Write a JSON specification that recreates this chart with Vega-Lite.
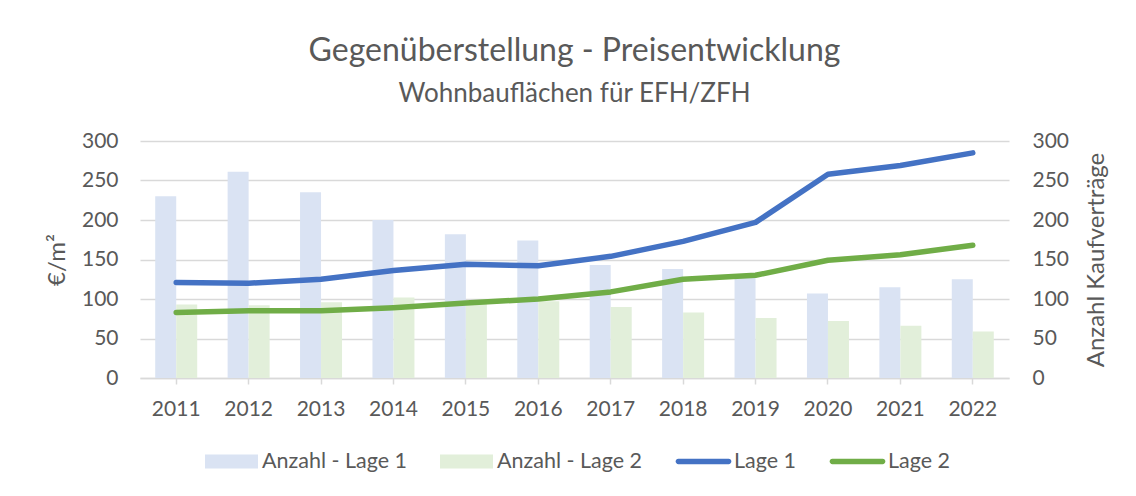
{
  "$schema": "https://vega.github.io/schema/vega-lite/v6.json",
  "width": 869,
  "height": 237,
  "autosize": {"type": "none"},
  "padding": {"left": 140, "top": 141, "right": 127, "bottom": 118},
  "background": "white",
  "title": {
    "text": "Gegenüberstellung - Preisentwicklung",
    "subtitle": "Wohnbauflächen für EFH/ZFH",
    "anchor": "middle",
    "font": "Lato",
    "fontSize": 32,
    "fontWeight": "normal",
    "color": "#595959",
    "subtitleFont": "Lato",
    "subtitleFontSize": 26,
    "subtitleColor": "#595959",
    "subtitlePadding": 13,
    "offset": 22
  },
  "config": {
    "view": {"stroke": null},
    "axis": {
      "labelFont": "Lato",
      "labelFontSize": 21,
      "labelColor": "#595959",
      "titleFont": "Lato",
      "titleFontSize": 24,
      "titleColor": "#595959",
      "titleFontWeight": "normal"
    }
  },
  "data": {
    "values": [
      {"year": "2011", "series": "Anzahl - Lage 1", "kind": "bar", "value": 230},
      {"year": "2012", "series": "Anzahl - Lage 1", "kind": "bar", "value": 261},
      {"year": "2013", "series": "Anzahl - Lage 1", "kind": "bar", "value": 235},
      {"year": "2014", "series": "Anzahl - Lage 1", "kind": "bar", "value": 200},
      {"year": "2015", "series": "Anzahl - Lage 1", "kind": "bar", "value": 182},
      {"year": "2016", "series": "Anzahl - Lage 1", "kind": "bar", "value": 174},
      {"year": "2017", "series": "Anzahl - Lage 1", "kind": "bar", "value": 143},
      {"year": "2018", "series": "Anzahl - Lage 1", "kind": "bar", "value": 138},
      {"year": "2019", "series": "Anzahl - Lage 1", "kind": "bar", "value": 128},
      {"year": "2020", "series": "Anzahl - Lage 1", "kind": "bar", "value": 107},
      {"year": "2021", "series": "Anzahl - Lage 1", "kind": "bar", "value": 115},
      {"year": "2022", "series": "Anzahl - Lage 1", "kind": "bar", "value": 125},
      {"year": "2011", "series": "Anzahl - Lage 2", "kind": "bar", "value": 93},
      {"year": "2012", "series": "Anzahl - Lage 2", "kind": "bar", "value": 92},
      {"year": "2013", "series": "Anzahl - Lage 2", "kind": "bar", "value": 96},
      {"year": "2014", "series": "Anzahl - Lage 2", "kind": "bar", "value": 102},
      {"year": "2015", "series": "Anzahl - Lage 2", "kind": "bar", "value": 96},
      {"year": "2016", "series": "Anzahl - Lage 2", "kind": "bar", "value": 97},
      {"year": "2017", "series": "Anzahl - Lage 2", "kind": "bar", "value": 90},
      {"year": "2018", "series": "Anzahl - Lage 2", "kind": "bar", "value": 83},
      {"year": "2019", "series": "Anzahl - Lage 2", "kind": "bar", "value": 76},
      {"year": "2020", "series": "Anzahl - Lage 2", "kind": "bar", "value": 72},
      {"year": "2021", "series": "Anzahl - Lage 2", "kind": "bar", "value": 66},
      {"year": "2022", "series": "Anzahl - Lage 2", "kind": "bar", "value": 59},
      {"year": "2011", "series": "Lage 1", "kind": "line", "value": 121},
      {"year": "2012", "series": "Lage 1", "kind": "line", "value": 120},
      {"year": "2013", "series": "Lage 1", "kind": "line", "value": 125},
      {"year": "2014", "series": "Lage 1", "kind": "line", "value": 136},
      {"year": "2015", "series": "Lage 1", "kind": "line", "value": 144},
      {"year": "2016", "series": "Lage 1", "kind": "line", "value": 142},
      {"year": "2017", "series": "Lage 1", "kind": "line", "value": 154},
      {"year": "2018", "series": "Lage 1", "kind": "line", "value": 173},
      {"year": "2019", "series": "Lage 1", "kind": "line", "value": 197},
      {"year": "2020", "series": "Lage 1", "kind": "line", "value": 258},
      {"year": "2021", "series": "Lage 1", "kind": "line", "value": 269},
      {"year": "2022", "series": "Lage 1", "kind": "line", "value": 285},
      {"year": "2011", "series": "Lage 2", "kind": "line", "value": 83},
      {"year": "2012", "series": "Lage 2", "kind": "line", "value": 85},
      {"year": "2013", "series": "Lage 2", "kind": "line", "value": 85},
      {"year": "2014", "series": "Lage 2", "kind": "line", "value": 89},
      {"year": "2015", "series": "Lage 2", "kind": "line", "value": 95},
      {"year": "2016", "series": "Lage 2", "kind": "line", "value": 100},
      {"year": "2017", "series": "Lage 2", "kind": "line", "value": 109},
      {"year": "2018", "series": "Lage 2", "kind": "line", "value": 125},
      {"year": "2019", "series": "Lage 2", "kind": "line", "value": 130},
      {"year": "2020", "series": "Lage 2", "kind": "line", "value": 149},
      {"year": "2021", "series": "Lage 2", "kind": "line", "value": 156},
      {"year": "2022", "series": "Lage 2", "kind": "line", "value": 168}
    ]
  },
  "layer": [
    {
      "transform": [{"filter": "datum.kind === 'bar'"}],
      "mark": {"type": "bar"},
      "encoding": {
        "x": {
          "field": "year",
          "type": "ordinal",
          "scale": {"type": "band", "paddingInner": 0.42, "paddingOuter": 0.21},
          "axis": {
            "title": null,
            "labelAngle": 0,
            "domainColor": "#d9d9d9",
            "domainWidth": 1.5,
            "tickColor": "#d9d9d9",
            "tickWidth": 1.5,
            "tickSize": 6,
            "labelPadding": 14,
            "grid": false
          }
        },
        "xOffset": {
          "field": "series",
          "type": "nominal",
          "sort": ["Anzahl - Lage 1", "Anzahl - Lage 2"],
          "scale": {"paddingInner": 0, "paddingOuter": 0}
        },
        "y": {
          "field": "value",
          "type": "quantitative",
          "scale": {"domain": [0, 300], "nice": false},
          "axis": {
            "orient": "right",
            "title": "Anzahl Kaufverträge",
            "titleAngle": -90,
            "titleBaseline": "top",
            "values": [0, 50, 100, 150, 200, 250, 300],
            "grid": false,
            "domain": false,
            "ticks": false,
            "labelPadding": 23,
            "titlePadding": 16
          }
        },
        "color": {
          "field": "series",
          "type": "nominal",
          "scale": {
            "domain": ["Anzahl - Lage 1", "Anzahl - Lage 2", "Lage 1", "Lage 2"],
            "range": ["#dae3f3", "#e2efda", "#4472c4", "#70ad47"]
          },
          "legend": {
            "title": null,
            "orient": "none",
            "legendX": 65,
            "legendY": 294,
            "direction": "horizontal",
            "columns": 4,
            "symbolSize": 2809,
            "symbolType": "M-1,-0.26H1V0.26H-1Z",
            "symbolStrokeWidth": 0,
            "labelFont": "Lato",
            "labelFontSize": 21.5,
            "labelColor": "#595959",
            "labelOffset": 4,
            "columnPadding": 32,
            "encode": {
              "symbols": {
                "update": {
                  "shape": {"signal": "indexof(datum.value, 'Anzahl') >= 0 ? 'M-1,-0.26H1V0.26H-1Z' : 'M-0.95,-0.1H0.95A0.1,0.1 0 0 1 0.95,0.1H-0.95A0.1,0.1 0 0 1 -0.95,-0.1Z'"},
                  "fill": {"signal": "scale('color', datum.value)"},
                  "fillOpacity": {"value": 1},
                  "strokeWidth": {"value": 0}
                }
              }
            }
          }
        }
      }
    },
    {
      "transform": [{"filter": "datum.kind === 'line'"}],
      "mark": {"type": "line", "strokeWidth": 5.5, "strokeCap": "round", "strokeJoin": "round"},
      "encoding": {
        "x": {
          "field": "year",
          "type": "ordinal",
          "scale": {"type": "band", "paddingInner": 0.42, "paddingOuter": 0.21}
        },
        "y": {
          "field": "value",
          "type": "quantitative",
          "scale": {"domain": [0, 300], "nice": false},
          "axis": {
            "orient": "left",
            "title": "€/m²",
            "values": [0, 50, 100, 150, 200, 250, 300],
            "grid": true,
            "gridColor": "#d9d9d9",
            "gridWidth": 1.5,
            "domain": false,
            "ticks": false,
            "labelPadding": 22,
            "titlePadding": 12
          }
        },
        "color": {"field": "series", "type": "nominal"}
      }
    }
  ],
  "resolve": {"scale": {"y": "independent"}}
}
